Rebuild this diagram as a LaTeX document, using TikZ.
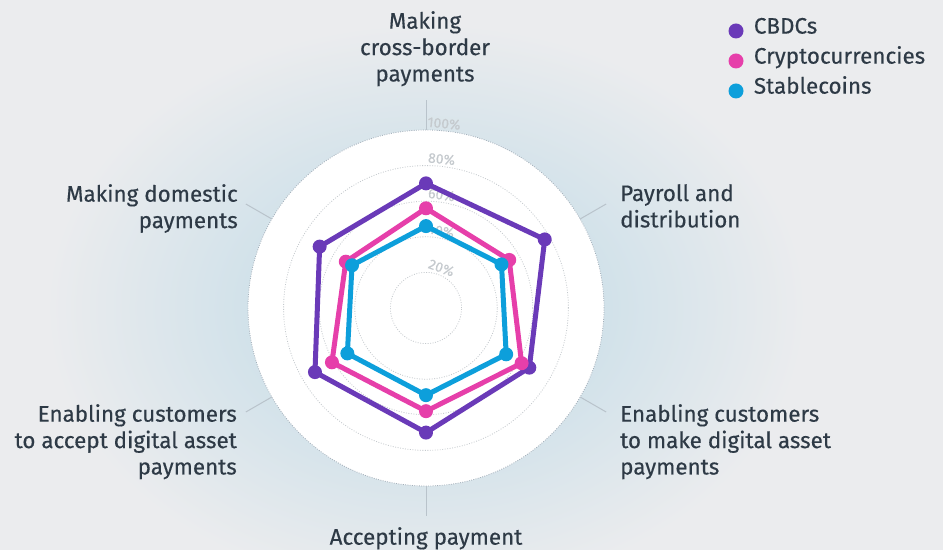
\documentclass[tikz,border=0pt]{standalone}
\usepackage{fontspec}
\setmainfont{Fira Sans}
\newfontfamily\labelfont{Fira Sans}[FakeBold=0.35]
\usepackage{tikz}
\usetikzlibrary{positioning}

\definecolor{pagebg}{HTML}{EBECEE}
\definecolor{glowin}{HTML}{D2E2EA}
\definecolor{labeltext}{HTML}{2E3A46}
\definecolor{pcttext}{HTML}{C5CACE}
\definecolor{ringgrey}{HTML}{C4C9CD}
\definecolor{edgegrey}{HTML}{A3AFBA}
\definecolor{spokegrey}{HTML}{B9C3CB}
\definecolor{cbdcpurple}{HTML}{6A3AB8}
\definecolor{cryptopink}{HTML}{E63FAA}
\definecolor{stableblue}{HTML}{0D9FDB}

\pgfdeclareradialshading{glowshade}{\pgfpoint{0bp}{0bp}}{color(0bp)=(glowin); color(12bp)=(glowin); color(25bp)=(pagebg); color(50bp)=(pagebg)}

\tikzset{
    axislabel/.style={font=\labelfont\fontsize{22.5}{26.5}\selectfont, text=labeltext, inner sep=0pt},
    legendtext/.style={font=\labelfont\fontsize{22.5}{26.5}\selectfont, text=labeltext, inner sep=0pt},
    legenddot/.style={circle, inner sep=0pt, minimum size=15bp},
    pctlabel/.style={font=\labelfont\fontsize{14}{16}\selectfont, text=pcttext, inner sep=0pt},
    ring/.style={ringgrey, line width=0.8pt, dash pattern=on 0.9pt off 1.6pt},
    spoke/.style={spokegrey, line width=1pt},
    series/.style={line width=5bp, line join=round},
    datadot/.style={circle, inner sep=0pt, minimum size=14bp}
}

\begin{document}
\begin{tikzpicture}[x=1bp, y=1bp]
    \useasboundingbox (-426, -242) rectangle (517, 308);
    \begin{scope}
        \clip (-426, -242) rectangle (517, 308);
        \fill[pagebg] (-426, -242) rectangle (517, 308);
        \shade[shading=glowshade] (0, 0) ellipse [x radius=380, y radius=285];
    \end{scope}

    %%disc
    \fill[white] (0, 0) circle [radius=178];
    \draw[edgegrey, line width=0.8pt, dash pattern=on 0.9pt off 1.4pt] (0, 0) circle [radius=178];

    %%rings
    \draw[ring] (0, 0) circle [radius=35.6];
    \draw[ring] (0, 0) circle [radius=71.2];
    \draw[ring] (0, 0) circle [radius=106.8];
    \draw[ring] (0, 0) circle [radius=142.4];

    %%ring labels
    \node[pctlabel, rotate=-20] (p20) at (69:43){20\%};
    \node[pctlabel, rotate=-11] (p40) at (79:78.6){40\%};
    \node[pctlabel, rotate=-7.6] (p60) at (82.2:114.2){60\%};
    \node[pctlabel, rotate=-5.8] (p80) at (84:149.8){80\%};
    \node[pctlabel, rotate=-5.3] (p100) at (84.4:185.4){100\%};

    %%spokes
    \coordinate (s1a) at (90:178);  \coordinate (s1b) at (90:208);
    \coordinate (s2a) at (30:178);  \coordinate (s2b) at (30:208);
    \coordinate (s3a) at (-30:178); \coordinate (s3b) at (-30:208);
    \coordinate (s4a) at (-90:178); \coordinate (s4b) at (-90:208);
    \coordinate (s5a) at (210:178); \coordinate (s5b) at (210:208);
    \coordinate (s6a) at (150:178); \coordinate (s6b) at (150:208);
        \draw[spoke] (s1a) to (s1b);
        \draw[spoke] (s2a) to (s2b);
        \draw[spoke] (s3a) to (s3b);
        \draw[spoke] (s4a) to (s4b);
        \draw[spoke] (s5a) to (s5b);
        \draw[spoke] (s6a) to (s6b);

    %%axis labels
    \node[axislabel, anchor=north, align=center] (cross) at (-1, 297){Making\\cross-border\\payments};
    \node[axislabel, anchor=north west, align=left] (payroll) at (194, 124){Payroll and\\distribution};
    \node[axislabel, anchor=north west, align=left] (make) at (194, -96){Enabling customers\\to make digital asset\\payments};
    \node[axislabel, anchor=north, align=center] (accepting) at (0, -219){Accepting payment};
    \node[axislabel, anchor=north east, align=right] (acceptdig) at (-189, -96){Enabling customers\\to accept digital asset\\payments};
    \node[axislabel, anchor=north east, align=right] (domestic) at (-188, 124){Making domestic\\payments};

    %%CBDCs
    \coordinate (c1) at (90:124.6);
    \coordinate (c2) at (30:137.1);
    \coordinate (c3) at (-30:119.3);
    \coordinate (c4) at (-90:124.6);
    \coordinate (c5) at (210:128.2);
    \coordinate (c6) at (150:122.8);
        \draw[series, cbdcpurple] (c1) to (c2) to (c3) to (c4) to (c5) to (c6) to (c1);

    %%Cryptocurrencies
    \coordinate (k1) at (90:99.7);
    \coordinate (k2) at (30:96.1);
    \coordinate (k3) at (-30:110.4);
    \coordinate (k4) at (-90:103.2);
    \coordinate (k5) at (210:108.6);
    \coordinate (k6) at (150:92.6);
        \draw[series, cryptopink] (k1) to (k2) to (k3) to (k4) to (k5) to (k6) to (k1);

    %%Stablecoins
    \coordinate (t1) at (90:81.9);
    \coordinate (t2) at (30:87.2);
    \coordinate (t3) at (-30:92.6);
    \coordinate (t4) at (-90:87.2);
    \coordinate (t5) at (210:90.8);
    \coordinate (t6) at (150:85.4);
        \draw[series, stableblue] (t1) to (t2) to (t3) to (t4) to (t5) to (t6) to (t1);

    %%dots
    \node[datadot, fill=cbdcpurple] (c1dot) at (c1){};
    \node[datadot, fill=cbdcpurple] (c2dot) at (c2){};
    \node[datadot, fill=cbdcpurple] (c3dot) at (c3){};
    \node[datadot, fill=cbdcpurple] (c4dot) at (c4){};
    \node[datadot, fill=cbdcpurple] (c5dot) at (c5){};
    \node[datadot, fill=cbdcpurple] (c6dot) at (c6){};
    \node[datadot, fill=cryptopink] (k1dot) at (k1){};
    \node[datadot, fill=cryptopink] (k2dot) at (k2){};
    \node[datadot, fill=cryptopink] (k3dot) at (k3){};
    \node[datadot, fill=cryptopink] (k4dot) at (k4){};
    \node[datadot, fill=cryptopink] (k5dot) at (k5){};
    \node[datadot, fill=cryptopink] (k6dot) at (k6){};
    \node[datadot, fill=stableblue] (t1dot) at (t1){};
    \node[datadot, fill=stableblue] (t2dot) at (t2){};
    \node[datadot, fill=stableblue] (t3dot) at (t3){};
    \node[datadot, fill=stableblue] (t4dot) at (t4){};
    \node[datadot, fill=stableblue] (t5dot) at (t5){};
    \node[datadot, fill=stableblue] (t6dot) at (t6){};

    %%legend
    \node[legenddot, fill=cbdcpurple] (cbdcdot) at (310, 277){};
        \node[legendtext, right=10bp of cbdcdot, anchor=mid west] (cbdctext){CBDCs};
    \node[legenddot, fill=cryptopink] (cryptodot) at (310, 247){};
        \node[legendtext, right=10bp of cryptodot, anchor=mid west] (cryptotext){Cryptocurrencies};
    \node[legenddot, fill=stableblue] (stabledot) at (310, 217){};
        \node[legendtext, right=10bp of stabledot, anchor=mid west] (stabletext){Stablecoins};
\end{tikzpicture}
\end{document}
